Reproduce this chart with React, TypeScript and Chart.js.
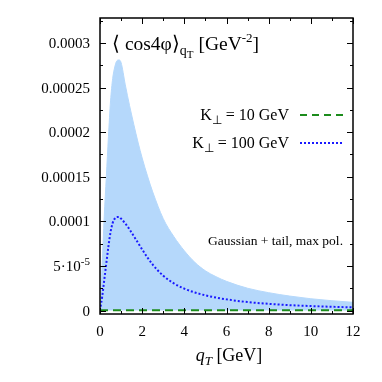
import React, { useEffect, useRef } from "react";
import { Chart, registerables } from "chart.js";

Chart.register(...registerables);

// q_T grid [GeV]
const qT = [0, 0.1, 0.2, 0.3, 0.4, 0.5, 0.6, 0.7, 0.8, 0.9, 1.0, 1.2, 1.4, 1.6, 1.8, 2.0, 2.25, 2.5, 3.0, 3.5, 4.0, 4.5, 5.0, 5.5, 6, 7, 8, 9, 10, 11, 12];
// upper edge of band (units of 1e-5 GeV^-2)
const bandUpper = [0, 5, 10.5, 15, 19.5, 23.5, 26, 27.3, 28, 28.1, 27.8, 25.3, 23.0, 20.9, 18.9, 17.1, 15.1, 13.3, 10.3, 8.3, 6.7, 5.4, 4.45, 3.8, 3.27, 2.5, 2.0, 1.62, 1.32, 1.1, 0.92];
// K_perp = 100 GeV (units of 1e-5)
const k100 = [0, 1.5, 3.4, 5.3, 7.2, 8.8, 9.8, 10.3, 10.5, 10.5, 10.3, 9.75, 9.1, 8.35, 7.6, 6.85, 5.95, 5.15, 3.9, 3.05, 2.45, 2.02, 1.7, 1.45, 1.25, 0.95, 0.75, 0.6, 0.5, 0.42, 0.35];
// K_perp = 10 GeV (units of 1e-5)
const k10 = [0, 0.03, 0.04, 0.04, 0.04, 0.04, 0.04, 0.04, 0.04, 0.04, 0.04, 0.04, 0.04, 0.04, 0.04, 0.04, 0.04, 0.04, 0.04, 0.04, 0.04, 0.04, 0.04, 0.04, 0.04, 0.04, 0.04, 0.04, 0.04, 0.04, 0.04];

const SCALE = 1e-5;
const yTickValues = [0, 0.00005, 0.0001, 0.00015, 0.0002, 0.00025, 0.0003];
const yTickLabels = ["0", "5·10", "0.0001", "0.00015", "0.0002", "0.00025", "0.0003"];
const xTickValues = [0, 2, 4, 6, 8, 10, 12];
const xTickLabels = ["0", "2", "4", "6", "8", "10", "12"];

const SERIF = '"Liberation Serif", "Times New Roman", serif';
const BAND = "#b5d8fb";
const GREEN = "#1c8c1c";
const BLUE = "#1a1aff";

type Seg = { t: string; f: string; dy?: number };

function richWidth(ctx: CanvasRenderingContext2D, segs: Seg[]) {
  let w = 0;
  for (const s of segs) {
    ctx.font = s.f;
    w += ctx.measureText(s.t).width;
  }
  return w;
}

function drawRich(ctx: CanvasRenderingContext2D, segs: Seg[], x: number, y: number, align: "left" | "right" | "center") {
  const w = richWidth(ctx, segs);
  let cx = align === "left" ? x : align === "right" ? x - w : x - w / 2;
  ctx.textAlign = "left";
  ctx.textBaseline = "alphabetic";
  for (const s of segs) {
    ctx.font = s.f;
    ctx.fillText(s.t, cx, y + (s.dy || 0));
    cx += ctx.measureText(s.t).width;
  }
}

const overlay = {
  id: "overlay",
  afterDraw(chart: any) {
    const ctx: CanvasRenderingContext2D = chart.ctx;
    const { left, right, top, bottom } = chart.chartArea;
    const xs = chart.scales.x;
    const ys = chart.scales.y;
    ctx.save();
    ctx.fillStyle = "#000";
    ctx.strokeStyle = "#000";

    // ticks (inside, mirrored)
    ctx.lineWidth = 1;
    ctx.beginPath();
    for (let v = 0; v <= 12; v += 1) {
      const px = Math.round(xs.getPixelForValue(v)) + 0.5;
      const len = v % 2 === 0 ? 6 : 3;
      ctx.moveTo(px, bottom);
      ctx.lineTo(px, bottom - len);
      ctx.moveTo(px, top);
      ctx.lineTo(px, top + len);
    }
    for (let i = 0; i <= 13; i++) {
      const v = i * 0.000025;
      if (v > ys.max) break;
      const py = Math.round(ys.getPixelForValue(v)) + 0.5;
      const len = i % 2 === 0 ? 6 : 3;
      ctx.moveTo(left, py);
      ctx.lineTo(left + len, py);
      ctx.moveTo(right, py);
      ctx.lineTo(right - len, py);
    }
    ctx.stroke();

    // frame
    ctx.lineWidth = 1.5;
    ctx.strokeRect(left, top, right - left, bottom - top);

    // y tick labels
    const tf = `15px ${SERIF}`;
    yTickValues.forEach((v, i) => {
      const py = ys.getPixelForValue(v) + 5;
      if (i === 1) {
        drawRich(ctx, [
          { t: yTickLabels[i], f: tf },
          { t: "-5", f: `11px ${SERIF}`, dy: -6 },
        ], 90, py, "right");
      } else {
        drawRich(ctx, [{ t: yTickLabels[i], f: tf }], 90, py, "right");
      }
    });
    // x tick labels
    xTickValues.forEach((v, i) => {
      const px = xs.getPixelForValue(v);
      drawRich(ctx, [{ t: xTickLabels[i], f: tf }], px, 336, "center");
    });
    // x title
    drawRich(ctx, [
      { t: "q", f: `italic 18px ${SERIF}` },
      { t: "T", f: `italic 13px ${SERIF}`, dy: 4 },
      { t: " [GeV]", f: `18px ${SERIF}` },
    ], 229, 361, "center");

    // plot title
    drawRich(ctx, [
      { t: "\u27E8 cos4\u03C6\u27E9", f: `19.5px ${SERIF}` },
      { t: "q", f: `14px ${SERIF}`, dy: 5 },
      { t: "T", f: `11px ${SERIF}`, dy: 8 },
      { t: " [GeV", f: `19.5px ${SERIF}` },
      { t: "-2", f: `13px ${SERIF}`, dy: -8 },
      { t: "]", f: `19.5px ${SERIF}` },
    ], 112, 50, "left");

    // legend
    const lf = `16px ${SERIF}`;
    drawRich(ctx, [
      { t: "K", f: lf },
      { t: "\u22A5", f: `12px ${SERIF}`, dy: 4 },
      { t: " = 10 GeV", f: lf },
    ], 289, 120, "right");
    drawRich(ctx, [
      { t: "K", f: lf },
      { t: "\u22A5", f: `12px ${SERIF}`, dy: 4 },
      { t: " = 100 GeV", f: lf },
    ], 289, 148, "right");
    ctx.lineWidth = 2;
    ctx.strokeStyle = GREEN;
    ctx.setLineDash([7, 5]);
    ctx.beginPath();
    ctx.moveTo(300, 115);
    ctx.lineTo(344, 115);
    ctx.stroke();
    ctx.strokeStyle = BLUE;
    ctx.setLineDash([2, 2]);
    ctx.beginPath();
    ctx.moveTo(300, 143);
    ctx.lineTo(344, 143);
    ctx.stroke();
    ctx.setLineDash([]);

    // annotation
    drawRich(ctx, [{ t: "Gaussian + tail, max pol.", f: `13.5px ${SERIF}` }], 343, 245, "right");

    ctx.restore();
  },
};

export default function App() {
  const ref = useRef<HTMLCanvasElement>(null);
  useEffect(() => {
    if (!ref.current) return;
    const mk = (arr: number[]) => qT.map((q, i) => ({ x: q, y: arr[i] * SCALE }));
    const chart = new Chart(ref.current, {
      type: "line",
      data: {
        datasets: [
          {
            label: "K⊥ = 10 GeV",
            data: mk(k10),
            borderColor: GREEN,
            borderWidth: 2,
            borderDash: [8, 5],
            pointRadius: 0,
            fill: false,
            order: 0,
          },
          {
            label: "K⊥ = 100 GeV",
            data: mk(k100),
            borderColor: BLUE,
            borderWidth: 2,
            borderDash: [2, 2],
            pointRadius: 0,
            fill: false,
            cubicInterpolationMode: "monotone",
            order: 1,
          },
          {
            label: "band",
            data: mk(bandUpper),
            borderColor: BAND,
            borderWidth: 1,
            backgroundColor: BAND,
            pointRadius: 0,
            fill: "origin",
            cubicInterpolationMode: "monotone",
            order: 2,
          },
        ],
      },
      options: {
        responsive: false,
        animation: false,
        devicePixelRatio: 1,
        layout: { padding: { top: 18, right: 29, left: 0, bottom: 0 } },
        plugins: { legend: { display: false }, tooltip: { enabled: false } },
        scales: {
          x: {
            type: "linear",
            min: 0,
            max: 12,
            grid: { display: false },
            border: { display: false },
            ticks: { display: false },
            afterFit: (s: any) => { s.height = 68; },
          },
          y: {
            type: "linear",
            min: -0.0000039,
            max: 0.000328,
            grid: { display: false },
            border: { display: false },
            ticks: { display: false },
            afterFit: (s: any) => { s.width = 100; },
          },
        },
      } as any,
      plugins: [overlay],
    });
    return () => chart.destroy();
  }, []);
  return (
    <div style={{ position: "absolute", left: 0, top: 0, width: 382, height: 382, background: "#fff" }}>
      <canvas ref={ref} width={382} height={382} />
    </div>
  );
}
